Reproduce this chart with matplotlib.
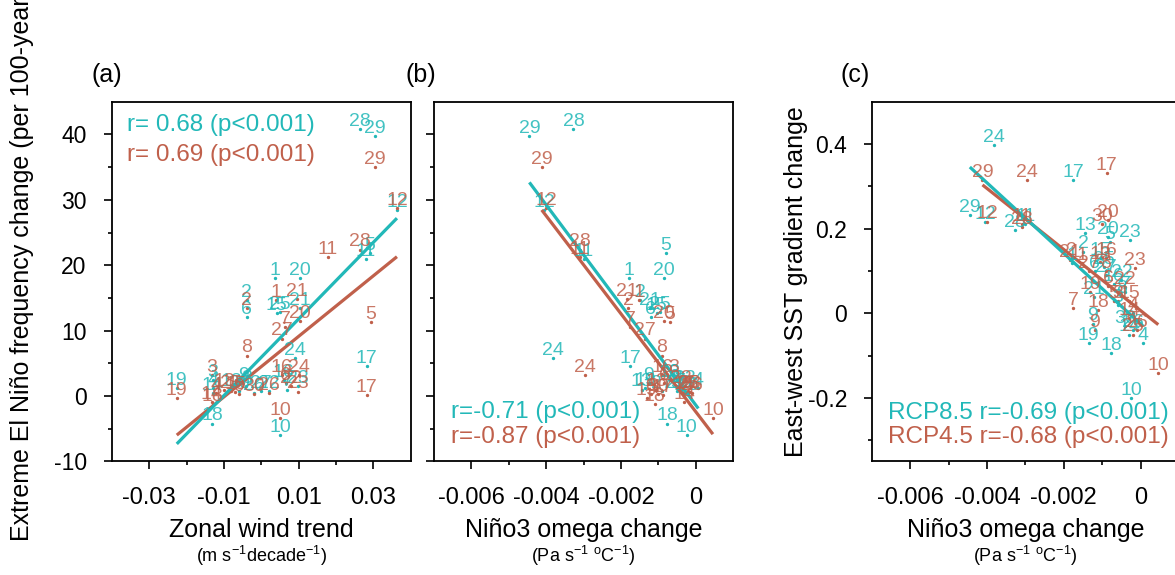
import numpy as np
import matplotlib
matplotlib.use("Agg")
import matplotlib.pyplot as plt
from matplotlib import font_manager
from matplotlib.ticker import FixedLocator, FixedFormatter

# model numbers 1..30
model_ids = list(range(1, 31))

# RCP8.5 (cyan)
wind_85 = [0.0037, -0.0039, -0.0130, -0.0130, 0.0291, -0.0039, 0.0070, -0.0040, -0.0048, 0.0050,
           0.0280, 0.0363, -0.0080, -0.0130, 0.0041, 0.0060, 0.0282, -0.0132, -0.0226, 0.0104,
           0.0104, 0.0020, 0.0099, 0.0090, 0.0050, -0.0020, 0.0000, 0.0264, 0.0304, -0.0060]
freq_85 = [18.0, 14.7, 2.5, 1.2, 21.8, 12.1, 1.0, 1.5, 2.0, -5.9,
           21.0, 28.5, 1.0, 0.5, 12.7, 2.5, 4.6, -4.2, 1.2, 18.0,
           13.4, 0.8, 1.5, 5.8, 12.9, 0.5, 0.8, 40.8, 39.8, 0.8]
omega_85 = [-0.00178, -0.00149, -0.00060, 0.00007, -0.00080, -0.00120, -0.00040, -0.00050, -0.00125, -0.00024,
            -0.00300, -0.00405, -0.00145, -0.00030, -0.00104, -0.00070, -0.00176, -0.00077, -0.00135, -0.00086,
            -0.00122, -0.00050, -0.00028, -0.00381, -0.00095, -0.00020, -0.00090, -0.00327, -0.00445, -0.00040]
sst_85 = [0.120, 0.146, 0.020, -0.070, 0.169, 0.100, 0.050, 0.040, -0.024, -0.200,
          0.210, 0.215, 0.190, -0.050, 0.130, 0.070, 0.315, -0.094, -0.071, 0.181,
          0.039, 0.079, 0.173, 0.398, 0.110, -0.040, 0.090, 0.197, 0.232, -0.030]

# RCP4.5 (red)
wind_45 = [0.0040, -0.0039, -0.0132, -0.0120, 0.0293, 0.0065, 0.0064, -0.0039, -0.0060, 0.0050,
           0.0178, 0.0363, -0.0100, -0.0132, -0.0070, 0.0055, 0.0282, -0.0130, -0.0226, 0.0104,
           0.0095, 0.0080, 0.0099, 0.0102, -0.0080, 0.0020, 0.0055, 0.0264, 0.0305, -0.0020]
freq_45 = [14.7, 13.5, 3.2, 0.5, 11.3, 2.0, 10.6, 6.2, 0.3, -3.4,
           21.3, 28.7, 1.0, -0.9, 0.6, 3.2, 0.2, -1.2, -0.3, 11.5,
           14.8, 1.5, 0.7, 3.2, 0.8, 0.5, 8.8, 22.4, 35.0, 0.3]
omega_45 = [-0.00153, -0.00180, -0.00060, -0.00020, -0.00070, -0.00084, -0.00175, -0.00091, -0.00120, 0.00046,
            -0.00310, -0.00400, -0.00106, -0.00030, -0.00030, -0.00090, -0.00088, -0.00110, -0.00131, -0.00086,
            -0.00185, -0.00040, -0.00015, -0.00296, -0.00020, -0.00010, -0.00135, -0.00310, -0.00412, -0.00100]
sst_45 = [0.120, 0.130, 0.030, 0.000, 0.030, 0.065, 0.012, 0.100, -0.040, -0.142,
          0.210, 0.217, 0.122, -0.010, 0.030, 0.130, 0.331, 0.008, 0.050, 0.220,
          0.125, 0.062, 0.106, 0.315, -0.050, -0.040, 0.100, 0.205, 0.315, 0.210]

# regression lines: (slope, intercept)
fit_a_85, fit_a_45 = (585.9, 5.93), (463.0, 4.5)
fit_b_85, fit_b_45 = (-7647.0, -1.36), (-7484.0, -2.38)
fit_c_85, fit_c_45 = (-83.3, -0.025), (-72.1, 0.0065)

stat_a = ["r= 0.68 (p<0.001)", "r= 0.69 (p<0.001)"]
stat_b = ["r=-0.71 (p<0.001)", "r=-0.87 (p<0.001)"]
stat_c = ["RCP8.5 r=-0.69 (p<0.001)", "RCP4.5 r=-0.68 (p<0.001)"]

CYAN = "#22b8b8"
RED = "#c0604b"

plt.rcParams["font.family"] = ["Liberation Sans", "DejaVu Sans"]
plt.rcParams["axes.unicode_minus"] = False
plt.rcParams["mathtext.fontset"] = "custom"
plt.rcParams["mathtext.rm"] = "Liberation Sans"

installed = {f.name for f in font_manager.fontManager.ttflist}
if "Liberation Sans Narrow" in installed:
    NARROW, TICK_FS, XLAB_FS, UNIT_FS, PANEL_FS = "Liberation Sans Narrow", 20, 21, 15, 21
else:
    NARROW, TICK_FS, XLAB_FS, UNIT_FS, PANEL_FS = "Liberation Sans", 17, 18, 13, 18


def style_axes(ax, xmajor, xminor, xlabels, ymajor, yminor, ylabels):
    for side in ["left", "bottom", "top", "right"]:
        ax.spines[side].set_linewidth(1.3)
    ax.xaxis.set_major_locator(FixedLocator(xmajor))
    ax.xaxis.set_minor_locator(FixedLocator(xminor))
    ax.xaxis.set_major_formatter(FixedFormatter(xlabels))
    ax.yaxis.set_major_locator(FixedLocator(ymajor))
    ax.yaxis.set_minor_locator(FixedLocator(yminor))
    ax.yaxis.set_major_formatter(FixedFormatter(ylabels))
    ax.tick_params(which="both", direction="out", top=False, right=False, width=1.2)
    ax.tick_params(which="major", length=6)
    ax.tick_params(which="minor", length=3)
    ax.tick_params(axis="x", which="major", pad=12.5)
    ax.tick_params(axis="y", which="major", pad=12, labelsize=16.5)
    for lab in ax.get_xticklabels():
        lab.set_fontfamily(NARROW)
        lab.set_fontsize(TICK_FS)


def draw_panel(ax, x_85, y_85, x_45, y_45, fit_85, fit_45):
    for x_arr, y_arr, color in ((x_85, y_85, CYAN), (x_45, y_45, RED)):
        ax.plot(x_arr, y_arr, linestyle="none", marker="o", markersize=1.4, color=color)
        for label, x, y in zip(model_ids, x_arr, y_arr):
            ax.annotate(str(label), (x, y), xytext=(0, 2.2), textcoords="offset points",
                        ha="center", va="baseline", fontsize=14, color=color, alpha=0.85)
    for x_arr, fit, color in ((x_45, fit_45, RED), (x_85, fit_85, CYAN)):
        xs = np.array([min(x_arr), max(x_arr)])
        ax.plot(xs, fit[0] * xs + fit[1], color=color, linewidth=2.3, solid_capstyle="butt")


def main():
    fig = plt.figure(figsize=(11.75, 5.75), dpi=100)
    ax_a = fig.add_axes([0.0951, 0.1974, 0.2545, 0.6257])
    ax_b = fig.add_axes([0.3694, 0.1974, 0.2545, 0.6257])
    ax_c = fig.add_axes([0.7421, 0.1974, 0.2613, 0.6257])

    units_omega = r"(Pa s$^{-1}$ $^{\mathrm{o}}$C$^{-1}$)"

    # (a)
    draw_panel(ax_a, wind_85, freq_85, wind_45, freq_45, fit_a_85, fit_a_45)
    ax_a.set_xlim(-0.04, 0.04)
    ax_a.set_ylim(-10, 45)
    style_axes(ax_a, [-0.03, -0.01, 0.01, 0.03], [-0.02, 0, 0.02], ["-0.03", "-0.01", "0.01", "0.03"],
               [-10, 0, 10, 20, 30, 40], [-5, 5, 15, 25, 35], ["-10", "0", "10", "20", "30", "40"])
    ax_a.text(0.05, 0.935, stat_a[0], transform=ax_a.transAxes, color=CYAN, fontsize=17.5, va="center")
    ax_a.text(0.05, 0.852, stat_a[1], transform=ax_a.transAxes, color=RED, fontsize=17.5, va="center")
    ax_a.set_ylabel("Extreme El Niño frequency change (per 100-year)", fontsize=18)
    ax_a.yaxis.set_label_coords(-0.26, 0.545)
    ax_a.text(0.5, -0.19, "Zonal wind trend", transform=ax_a.transAxes, ha="center", va="center",
              fontsize=XLAB_FS, family=NARROW)
    ax_a.text(0.5, -0.263, r"(m s$^{-1}$decade$^{-1}$)", transform=ax_a.transAxes, ha="center", va="center",
              fontsize=UNIT_FS, family=NARROW)
    ax_a.text(-0.015, 1.074, "(a)", transform=ax_a.transAxes, ha="center", va="center",
              fontsize=PANEL_FS, family=NARROW)

    # (b)
    draw_panel(ax_b, omega_85, freq_85, omega_45, freq_45, fit_b_85, fit_b_45)
    ax_b.set_xlim(-0.007, 0.001)
    ax_b.set_ylim(-10, 45)
    style_axes(ax_b, [-0.006, -0.004, -0.002, 0], [-0.005, -0.003, -0.001], ["-0.006", "-0.004", "-0.002", "0"],
               [-10, 0, 10, 20, 30, 40], [-5, 5, 15, 25, 35], [""] * 6)
    ax_b.text(0.056, 0.138, stat_b[0], transform=ax_b.transAxes, color=CYAN, fontsize=17.5, va="center")
    ax_b.text(0.056, 0.069, stat_b[1], transform=ax_b.transAxes, color=RED, fontsize=17.5, va="center")
    ax_b.text(0.5, -0.19, "Niño3 omega change", transform=ax_b.transAxes, ha="center", va="center",
              fontsize=XLAB_FS, family=NARROW)
    ax_b.text(0.5, -0.263, units_omega, transform=ax_b.transAxes, ha="center", va="center",
              fontsize=UNIT_FS, family=NARROW)
    ax_b.text(-0.045, 1.074, "(b)", transform=ax_b.transAxes, ha="center", va="center",
              fontsize=PANEL_FS, family=NARROW)

    # (c)
    draw_panel(ax_c, omega_85, sst_85, omega_45, sst_45, fit_c_85, fit_c_45)
    ax_c.set_xlim(-0.007, 0.001)
    ax_c.set_ylim(-0.35, 0.5)
    style_axes(ax_c, [-0.006, -0.004, -0.002, 0], [-0.005, -0.003, -0.001], ["-0.006", "-0.004", "-0.002", "0"],
               [-0.2, 0, 0.2, 0.4], [-0.3, -0.1, 0.1, 0.3], ["-0.2", "0", "0.2", "0.4"])
    ax_c.text(0.053, 0.134, stat_c[0], transform=ax_c.transAxes, color=CYAN, fontsize=17.5, va="center")
    ax_c.text(0.053, 0.069, stat_c[1], transform=ax_c.transAxes, color=RED, fontsize=17.5, va="center")
    ax_c.set_ylabel("East-west SST gradient change", fontsize=18)
    ax_c.yaxis.set_label_coords(-0.208, 0.5)
    ax_c.text(0.5, -0.19, "Niño3 omega change", transform=ax_c.transAxes, ha="center", va="center",
              fontsize=XLAB_FS, family=NARROW)
    ax_c.text(0.5, -0.263, units_omega, transform=ax_c.transAxes, ha="center", va="center",
              fontsize=UNIT_FS, family=NARROW)
    ax_c.text(-0.055, 1.074, "(c)", transform=ax_c.transAxes, ha="center", va="center",
              fontsize=PANEL_FS, family=NARROW)

    fig.savefig("out.png", dpi=100)
    plt.close(fig)


if __name__ == "__main__":
    main()
